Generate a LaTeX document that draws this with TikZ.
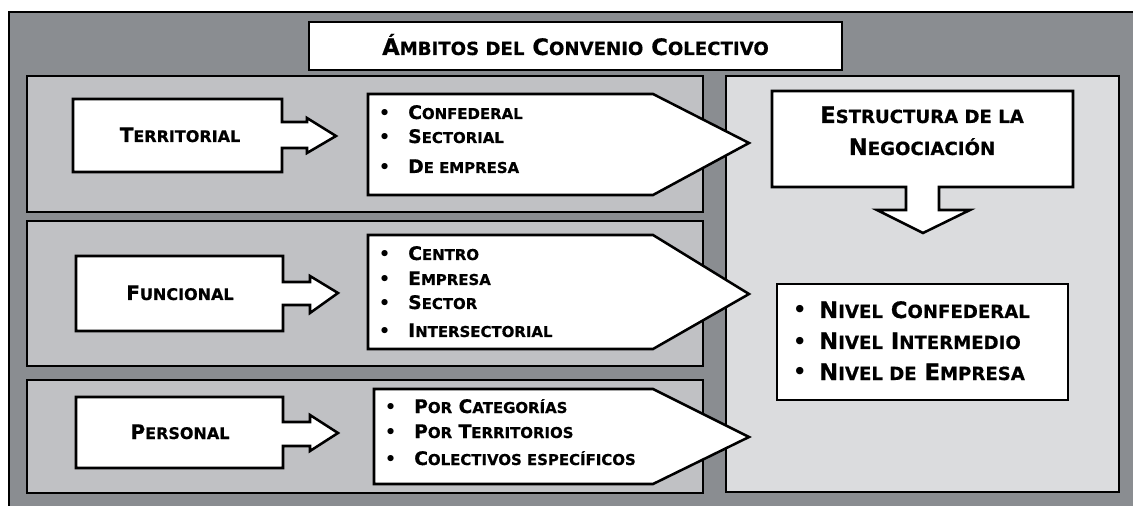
\documentclass[tikz,border=0pt]{standalone}
\usepackage{fontspec}
\setmainfont{DejaVu Sans}[BoldFeatures={FakeBold=0.6}]
\makeatletter
\newcommand\smc[1]{{\fontsize{\fpeval{0.8*\f@size}}{0}\selectfont #1}}
\makeatother
\definecolor{outerg}{RGB}{138,141,145}
\definecolor{bandg}{RGB}{192,193,196}
\definecolor{panelg}{RGB}{219,220,222}
\begin{document}
\begin{tikzpicture}[x=0.75pt,y=-0.75pt, line width=1.9pt, line join=miter,
  box/.style={draw=black, fill=white},
  band/.style={draw=black, fill=bandg},
  lbl/.style={font=\bfseries\fontsize{15}{18}\selectfont, inner sep=0pt, anchor=base},
  itm/.style={font=\bfseries\fontsize{14}{16}\selectfont, inner sep=0pt, anchor=base west},
  bul/.style={font=\fontsize{16}{18}\selectfont, inner sep=0pt, anchor=base west},
  big/.style={font=\bfseries\fontsize{17}{20}\selectfont, inner sep=0pt, anchor=base},
  bigitm/.style={font=\bfseries\fontsize{17}{20}\selectfont, inner sep=0pt, anchor=base west},
  bigbul/.style={font=\fontsize{19}{22}\selectfont, inner sep=0pt, anchor=base west}]
\useasboundingbox (0,0) rectangle (1133,506);
\begin{scope}
\clip (0,0) rectangle (1133,506);
\draw[fill=outerg] (9,12) rectangle (1150,525);
\end{scope}
% title
\draw[box] (309,22) rectangle (842,70);
\node[big] (title) at (575.5,55) {Á\smc{MBITOS DEL} C\smc{ONVENIO} C\smc{OLECTIVO}};
% bands
\draw[band] (27,76) rectangle (703,212);
\draw[band] (27,221) rectangle (703,366);
\draw[band] (27,380) rectangle (703,493);
% right panel
\draw[draw=black, fill=panelg] (726,76) rectangle (1119,492);
% left label arrows
\draw[box] (73,99) -- (282,99) -- (282,122) -- (307,122) -- (307,118) -- (336,136) -- (307,153) -- (307,148) -- (282,148) -- (282,172) -- (73,172) -- cycle;
\draw[box] (76,256) -- (283,256) -- (283,282) -- (310,282) -- (310,276) -- (338,293) -- (310,313) -- (310,305) -- (283,305) -- (283,331) -- (76,331) -- cycle;
\draw[box] (76,397) -- (283,397) -- (283,422) -- (310,422) -- (310,415) -- (338,433) -- (310,451) -- (310,446) -- (283,446) -- (283,468) -- (76,468) -- cycle;
\node[lbl] (terr) at (180,142) {T\smc{ERRITORIAL}};
\node[lbl] (func) at (180,300) {F\smc{UNCIONAL}};
\node[lbl] (pers) at (180,439) {P\smc{ERSONAL}};
% bullet arrows
\draw[box] (368,94) -- (653,94) -- (749,143) -- (653,195) -- (368,195) -- cycle;
\draw[box] (368,235) -- (653,235) -- (749,294) -- (653,349) -- (368,349) -- cycle;
\draw[box] (374,389) -- (653,389) -- (749,437) -- (653,484) -- (374,484) -- cycle;
\foreach \n/\y/\t in {a1/119/{C\smc{ONFEDERAL}}, a2/143/{S\smc{ECTORIAL}}, a3/173/{D\smc{E EMPRESA}},
  b1/260/{C\smc{ENTRO}}, b2/285/{E\smc{MPRESA}}, b3/309/{S\smc{ECTOR}}, b4/337/{I\smc{NTERSECTORIAL}}}{
  \node[bul] (bul\n) at (377,\y+1.5) {•};
  \node[itm] (\n) at (407,\y) {\t};
}
\foreach \n/\y/\t in {c1/413/{P\smc{OR} C\smc{ATEGORÍAS}}, c2/438/{P\smc{OR} T\smc{ERRITORIOS}}, c3/465/{C\smc{OLECTIVOS ESPECÍFICOS}}}{
  \node[bul] (bul\n) at (383,\y+1.5) {•};
  \node[itm] (\n) at (413,\y) {\t};
}
% estructura
\draw[box] (772,91) -- (1073,91) -- (1073,187) -- (939,187) -- (939,210) -- (970,210) -- (923,233) -- (877,210) -- (906,210) -- (906,187) -- (772,187) -- cycle;
\node[big] (est1) at (922,123) {E\smc{STRUCTURA DE LA}};
\node[big] (est2) at (922,155) {N\smc{EGOCIACIÓN}};
% niveles
\draw[box] (777,284) rectangle (1068,400);
\foreach \n/\y/\t in {n1/318/{N\smc{IVEL} C\smc{ONFEDERAL}}, n2/349/{N\smc{IVEL} I\smc{NTERMEDIO}}, n3/380/{N\smc{IVEL DE} E\smc{MPRESA}}}{
  \node[bigbul] (bul\n) at (791,\y+1) {•};
  \node[bigitm] (\n) at (818,\y) {\t};
}
\end{tikzpicture}
\end{document}
